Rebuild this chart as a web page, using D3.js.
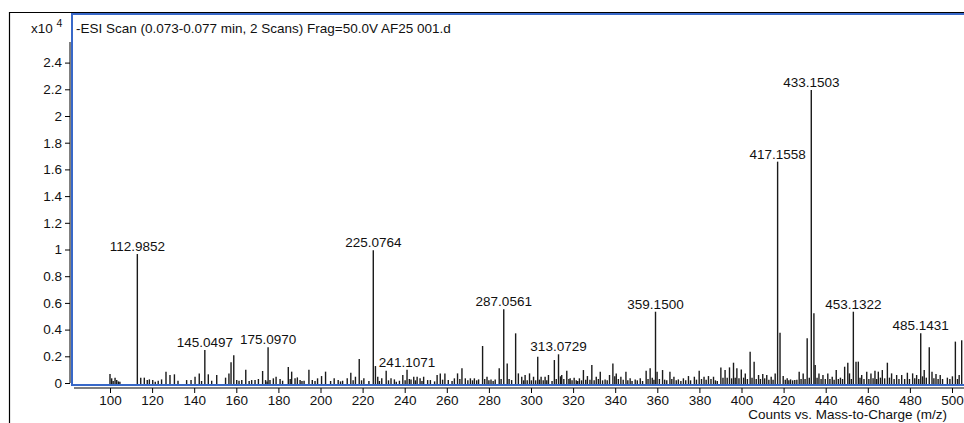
<!DOCTYPE html>
<html>
<head>
<meta charset="utf-8">
<script src="https://cdn.jsdelivr.net/npm/d3@7"></script>
<style>
  html, body { margin: 0; padding: 0; background: #fff; }
  svg { display: block; font-family: "Liberation Sans", Arial, sans-serif; }
</style>
</head>
<body>
<svg id="chart" width="964" height="423"></svg>
<script>
// Annotated peaks: m/z and intensity (counts x10^4)
const labelMz  = [112.9852, 145.0497, 175.0970, 225.0764, 241.1071, 287.0561, 313.0729, 359.1500, 417.1558, 433.1503, 453.1322, 485.1431];
const labelInt = [0.966, 0.247, 0.267, 0.995, 0.100, 0.552, 0.215, 0.534, 1.658, 2.195, 0.534, 0.372];

// Remaining centroid peaks of the scan (m/z, counts x10^4)
const peakMz = [
  100.0,100.8,101.5,102.4,103.2,104.0,104.7,114.6,116.3,117.7,118.7,120.3,121.5,122.9,124.5,126.6,128.5,130.6,132.3,136.4,
  138.5,140.4,142.4,143.5,146.7,148.3,150.7,154.9,156.5,157.5,158.8,160.2,161.3,162.6,164.5,166.1,167.3,168.9,170.5,172.5,
  173.9,174.6,176.0,177.6,178.9,180.8,182.0,184.7,185.6,186.3,187.9,189.0,190.3,191.2,192.2,194.5,196.1,197.4,198.6,200.5,
  202.4,204.8,206.5,208.4,209.5,210.5,212.7,214.4,215.5,216.6,218.4,219.5,220.6,223.0,226.1,227.2,228.0,229.1,231.2,232.3,
  233.5,235.1,236.0,237.5,239.1,240.2,242.2,243.0,244.3,245.1,245.9,247.3,248.2,249.0,250.9,252.2,254.2,255.4,256.9,258.0,
  259.1,260.7,262.5,263.6,265.1,266.2,267.2,268.8,270.0,271.2,272.2,273.1,274.2,275.1,277.0,278.0,279.1,280.0,281.0,282.0,
  283.0,284.9,285.8,288.7,289.6,290.8,292.7,294.0,295.6,296.5,297.2,298.2,299.3,300.2,301.2,302.2,303.2,304.0,304.8,305.8,
  306.7,307.5,308.3,310.0,311.1,312.0,314.0,314.6,315.6,317.0,318.0,318.6,319.5,320.5,321.5,322.2,323.0,324.0,324.9,326.0,
  326.8,328.0,328.9,330.0,331.0,332.0,332.9,334.0,335.2,336.2,337.3,338.9,339.8,340.5,341.5,342.7,343.8,345.1,346.0,347.1,
  348.0,349.5,350.5,351.9,353.0,354.7,355.6,356.6,357.6,358.4,359.9,361.0,362.5,363.5,364.5,366.0,366.9,367.9,369.0,370.0,
  371.2,372.4,373.5,374.8,375.8,377.6,378.6,379.9,381.0,382.2,383.2,384.3,385.5,386.7,387.6,388.5,390.2,391.2,392.2,393.2,
  394.3,395.3,396.2,397.0,397.8,398.8,399.9,401.0,401.8,402.8,404.1,405.0,406.0,407.0,408.1,409.0,410.1,411.0,412.0,413.0,
  414.1,415.0,416.0,418.3,419.8,420.8,421.7,422.5,423.3,424.3,425.3,426.3,427.4,428.3,429.3,430.2,431.2,432.2,434.4,435.0,
  435.9,436.8,437.8,438.7,439.8,441.0,442.0,443.1,444.0,445.0,446.0,447.0,448.0,449.0,450.5,451.3,452.2,454.4,455.5,456.3,
  457.1,458.2,459.5,460.5,461.5,462.5,463.4,464.2,465.0,466.0,466.9,468.0,469.3,470.3,471.3,472.5,473.7,474.8,476.1,477.5,
  478.8,479.8,481.3,482.3,483.2,484.2,486.0,486.8,487.8,489.2,490.5,491.4,492.4,493.4,494.4,495.5,497.8,499.0,500.2,501.6,
  502.6,503.4,504.6
];
const peakInt = [
  0.067,0.035,0.015,0.040,0.022,0.012,0.010,0.040,0.040,0.022,0.027,0.022,0.010,0.017,0.027,0.085,0.060,0.065,0.017,0.022,
  0.022,0.047,0.072,0.015,0.065,0.017,0.060,0.040,0.072,0.155,0.207,0.022,0.017,0.022,0.100,0.015,0.022,0.022,0.030,0.090,
  0.022,0.012,0.022,0.035,0.047,0.030,0.017,0.120,0.030,0.085,0.035,0.042,0.022,0.015,0.017,0.100,0.022,0.015,0.035,0.052,
  0.085,0.015,0.035,0.022,0.012,0.017,0.035,0.077,0.020,0.047,0.180,0.020,0.035,0.015,0.127,0.047,0.015,0.035,0.092,0.020,
  0.035,0.027,0.010,0.017,0.060,0.020,0.030,0.027,0.047,0.020,0.047,0.035,0.015,0.047,0.022,0.022,0.012,0.060,0.072,0.025,
  0.072,0.022,0.015,0.035,0.072,0.030,0.110,0.035,0.020,0.035,0.020,0.035,0.020,0.027,0.277,0.030,0.047,0.020,0.027,0.015,
  0.027,0.110,0.030,0.147,0.030,0.022,0.372,0.072,0.047,0.020,0.060,0.020,0.072,0.020,0.047,0.020,0.197,0.025,0.047,0.020,
  0.047,0.020,0.060,0.015,0.172,0.030,0.050,0.060,0.030,0.092,0.030,0.035,0.020,0.040,0.020,0.015,0.035,0.020,0.097,0.025,
  0.052,0.025,0.135,0.020,0.047,0.030,0.085,0.020,0.027,0.020,0.060,0.147,0.050,0.072,0.030,0.047,0.025,0.085,0.020,0.035,
  0.015,0.027,0.020,0.035,0.015,0.092,0.030,0.110,0.040,0.025,0.085,0.030,0.097,0.025,0.020,0.085,0.030,0.047,0.020,0.027,
  0.015,0.035,0.020,0.052,0.020,0.047,0.025,0.092,0.030,0.047,0.025,0.052,0.030,0.047,0.020,0.015,0.117,0.040,0.097,0.040,
  0.117,0.035,0.152,0.040,0.110,0.035,0.102,0.040,0.072,0.030,0.235,0.040,0.160,0.030,0.060,0.030,0.067,0.035,0.060,0.025,
  0.047,0.025,0.072,0.377,0.052,0.025,0.035,0.020,0.027,0.020,0.022,0.025,0.085,0.030,0.072,0.030,0.335,0.040,0.522,0.135,
  0.040,0.072,0.030,0.060,0.030,0.072,0.030,0.047,0.025,0.097,0.030,0.040,0.030,0.122,0.152,0.072,0.030,0.160,0.160,0.040,
  0.060,0.030,0.085,0.030,0.072,0.035,0.092,0.030,0.085,0.040,0.097,0.035,0.152,0.040,0.072,0.030,0.060,0.030,0.060,0.030,
  0.077,0.030,0.072,0.035,0.060,0.030,0.050,0.097,0.040,0.267,0.085,0.035,0.067,0.030,0.060,0.030,0.040,0.030,0.050,0.310,
  0.030,0.060,0.320
];

const xTicks = [100,120,140,160,180,200,220,240,260,280,300,320,340,360,380,400,420,440,460,480,500];
const yTicks = [0,0.2,0.4,0.6,0.8,1,1.2,1.4,1.6,1.8,2,2.2,2.4];
const titleText = "-ESI Scan (0.073-0.077 min, 2 Scans) Frag=50.0V AF25 001.d";
const xAxisTitle = "Counts vs. Mass-to-Charge (m/z)";

const FONT = "Liberation Sans, Arial, sans-serif";
const FS = 13.5;

const svg = d3.select("#chart");
const W = 964, H = 423;
const plot = { left: 72, top: 14, right: 972, bottom: 385 };

const x = d3.scaleLinear().domain([100, 500]).range([110, 952]);
const y = d3.scaleLinear().domain([0, 2.4]).range([383, 62.6]);

// outer panel edge
svg.append("path")
  .attr("d", `M9.5,${H} V12.5 H${W}`)
  .attr("fill", "none").attr("stroke", "#000").attr("stroke-width", 1.2);

// clip for the spectrum area
svg.append("clipPath").attr("id", "plotClip")
  .append("rect").attr("x", plot.left + 1).attr("y", plot.top)
  .attr("width", W - plot.left).attr("height", plot.bottom - plot.top);

// spectrum sticks
const sticks = svg.append("g").attr("clip-path", "url(#plotClip)");
const allPeaks = peakMz.map((m, i) => ({ mz: m, v: peakInt[i] }))
  .concat(labelMz.map((m, i) => ({ mz: m, v: labelInt[i] })));
sticks.selectAll("line.peak").data(allPeaks).join("line")
  .attr("class", "peak")
  .attr("x1", d => x(d.mz)).attr("x2", d => x(d.mz))
  .attr("y1", y(0) + 1).attr("y2", d => y(d.v))
  .attr("stroke", "#1a1a1a").attr("stroke-width", 1.4);

// blue plot frame
svg.append("rect")
  .attr("x", plot.left).attr("y", plot.top)
  .attr("width", plot.right - plot.left).attr("height", plot.bottom - plot.top)
  .attr("fill", "none").attr("stroke", "#3868c8").attr("stroke-width", 2);

// y axis
const yAxis = d3.axisLeft(y).tickValues(yTicks).tickSize(5).tickPadding(3)
  .tickFormat(d => d3.format("~g")(d));
const gy = svg.append("g").attr("transform", "translate(70,0)").call(yAxis);
gy.select(".domain").attr("d", `M0,42 V${y(0)}`);
gy.selectAll("text").attr("font-size", FS).attr("fill", "#111").attr("font-family", FONT);

// x axis
const xAxis = d3.axisBottom(x).tickValues(xTicks).tickSize(5).tickPadding(2).tickFormat(d3.format("d"));
const gx = svg.append("g").attr("transform", "translate(0,388)").call(xAxis);
gx.select(".domain").attr("d", `M74,0 H${W}`);
gx.selectAll("text").attr("font-size", FS).attr("fill", "#111").attr("font-family", FONT);

// peak annotations
svg.append("g").selectAll("text").data(labelMz.map((m, i) => ({ mz: m, v: labelInt[i] })))
  .join("text")
  .attr("x", d => x(d.mz)).attr("y", d => y(d.v) - 3)
  .attr("text-anchor", "middle").attr("font-size", FS).attr("fill", "#111")
  .text(d => d.mz.toFixed(4));

// scan title and exponent
svg.append("text").attr("x", 76).attr("y", 33).attr("font-size", FS).attr("fill", "#111").text(titleText);
const ex = svg.append("text").attr("x", 31).attr("y", 33).attr("font-size", FS).attr("fill", "#111");
ex.append("tspan").text("x10 ");
ex.append("tspan").attr("dy", -6).attr("font-size", 10.5).text("4");

// x axis title
svg.append("text").attr("x", 947).attr("y", 419).attr("text-anchor", "end")
  .attr("font-size", FS).attr("fill", "#111").text(xAxisTitle);
</script>
</body>
</html>
